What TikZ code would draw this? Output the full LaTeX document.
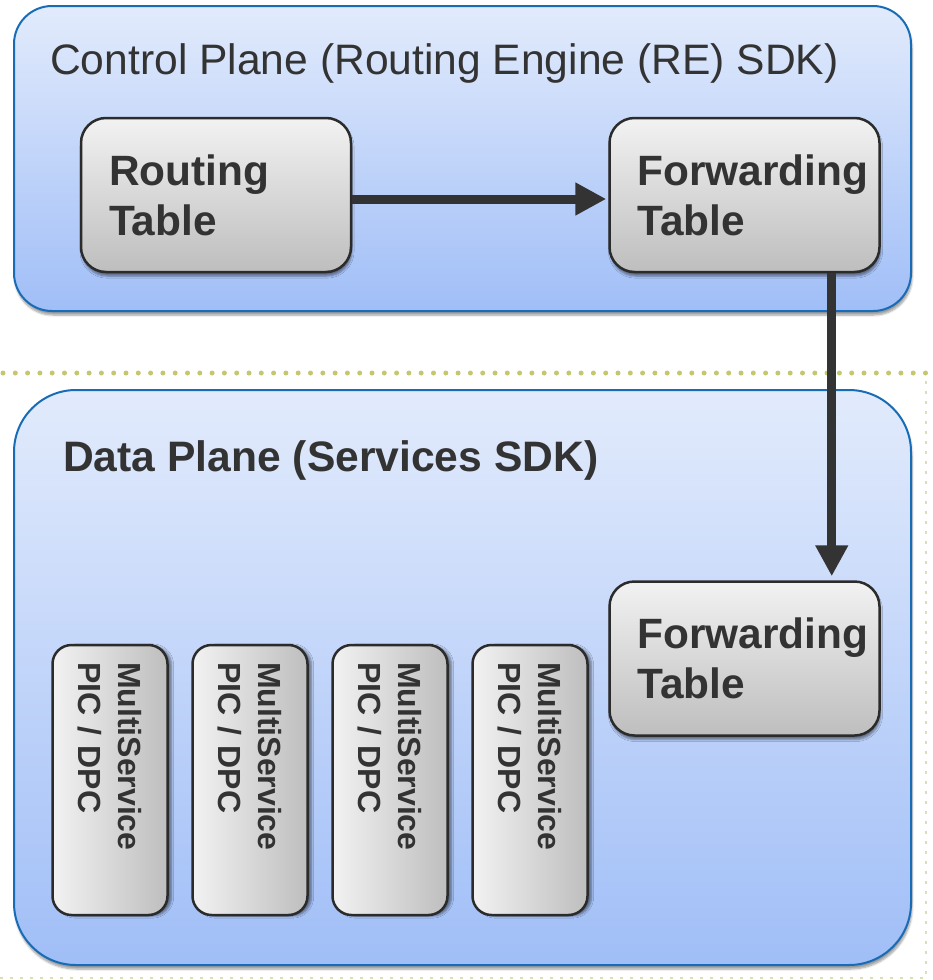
\documentclass[tikz,border=0pt]{standalone}
\usepackage{fontspec}
\setmainfont{Liberation Sans}
\usepackage{xcolor}
\usepackage{tikz}
\usetikzlibrary{arrows.meta, positioning, calc, shadows.blur}
\hyphenpenalty=10000
\definecolor{planetop}{RGB}{226,235,252}
\definecolor{planebottom}{RGB}{160,190,247}
\definecolor{planeborder}{RGB}{24,108,182}
\definecolor{boxtop}{RGB}{242,242,242}
\definecolor{boxbottom}{RGB}{190,190,190}
\definecolor{boxborder}{RGB}{43,43,43}
\definecolor{textgray}{RGB}{51,51,51}
\definecolor{sepgreen}{RGB}{197,199,110}
\definecolor{sepfaint}{RGB}{222,222,182}
\tikzstyle{plane} = [rectangle, draw=planeborder, line width=2pt, top color=planetop, bottom color=planebottom, blur shadow={shadow xshift=1pt, shadow yshift=-4pt, shadow blur steps=6, shadow opacity=40}]
\tikzstyle{planetitle} = [text=textgray, inner sep=0pt, font=\fontsize{42.6}{50}\selectfont]
\tikzstyle{tablebox} = [rectangle, rounded corners=25pt, minimum width=270pt, minimum height=154pt, text width=214pt, inner xsep=28pt, align=left, draw=boxborder, line width=2.5pt, top color=boxtop, bottom color=boxbottom, text=textgray, font=\fontsize{42.4}{50}\selectfont\bfseries, blur shadow={shadow xshift=1pt, shadow yshift=-4pt, shadow blur steps=5, shadow opacity=45}]
\tikzstyle{msbox} = [rectangle, rotate=-90, rounded corners=19pt, minimum height=115pt, text width=236pt, inner xsep=17pt, align=left, draw=boxborder, line width=2.5pt, left color=boxtop, right color=boxbottom, text=textgray, font=\fontsize{32}{40}\selectfont\bfseries, blur shadow={shadow xshift=4pt, shadow yshift=-1pt, shadow blur steps=5, shadow opacity=45}]
\tikzstyle{arrow} = [line width=9pt, draw=textgray, -{Triangle[length=31pt, width=31pt]}]
\tikzstyle{sepline} = [draw=sepgreen, line width=5pt, line cap=round, dash pattern=on 0pt off 12.3pt]
\tikzstyle{sepframe} = [draw=sepfaint, line width=2pt, dash pattern=on 3pt off 7pt]

\begin{document}
\begin{tikzpicture}[x=1pt, y=-1pt]
    \useasboundingbox (0,0) rectangle (932,980);
    % Separator
    \draw [sepline] (3,373) -- (932,373);
    \draw [sepframe] (0,978) -- (926,978) -- (926,380);

    % Control plane
    \node (ctrlplane) [plane, rounded corners=38pt, minimum width=897pt, minimum height=305pt] at (462.5,158.5) {};
    \node (ctrltitle) [planetitle, anchor=base west] at (50,74) {Control Plane (Routing Engine (RE) SDK)};
    \node (routing) [tablebox] at (216,195) {Routing\\Table};
    \node (fwdtop) [tablebox, right=256pt of routing] {Forwarding\\Table};

    % Data plane
    \node (dataplane) [plane, rounded corners=62pt, minimum width=897pt, minimum height=575pt] at (462.5,677.5) {};
    \node (datatitle) [planetitle, font=\fontsize{42.6}{50}\selectfont\bfseries, anchor=base west] at (63,471) {Data Plane (Services SDK)};
    \node (fwdbot) [tablebox, below=307pt of fwdtop] {Forwarding\\Table};
    \node (ms1) [msbox] at (110,780) {MultiService\\PIC / DPC};
    \node (ms2) [msbox] at (250,780) {MultiService\\PIC / DPC};
    \node (ms3) [msbox] at (390,780) {MultiService\\PIC / DPC};
    \node (ms4) [msbox] at (530,780) {MultiService\\PIC / DPC};

    % Arrows
    \draw [arrow, shorten >=2pt] ([yshift=-4pt]routing.east) -- ([yshift=-4pt]fwdtop.west);
    \draw [arrow, shorten >=4pt] ([xshift=-49pt]fwdtop.south east) -- ([xshift=-49pt]fwdbot.north east);
\end{tikzpicture}
\end{document}
